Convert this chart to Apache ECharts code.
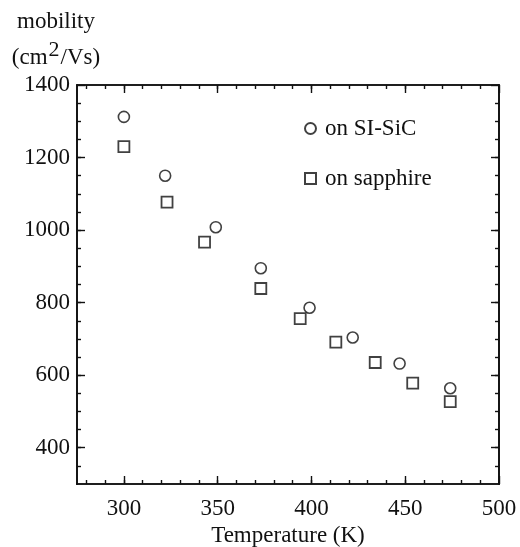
<!DOCTYPE html>
<html>
<head>
<meta charset="utf-8">
<script src="https://cdn.jsdelivr.net/npm/echarts@6/dist/echarts.min.js"></script>
<style>
html,body{margin:0;padding:0;background:#fff;}
#c{width:520px;height:547px;}
</style>
</head>
<body>
<div id="c"></div>
<script>
// Data
const sicTemp = [300, 322, 349, 373, 399, 422, 447, 474];
const sicMobility = [1312, 1150, 1008, 895, 786, 704, 632, 564];
const sapphireTemp = [300, 323, 343, 373, 394, 413, 434, 454, 474];
const sapphireMobility = [1230, 1077, 967, 839, 756, 691, 635, 578, 527];
const seriesNames = ['on SI-SiC', 'on sapphire'];

// Tick values
const xMajorTicks = [300, 350, 400, 450, 500];
const xMinorTicks = [280, 290, 300, 310, 320, 330, 340, 350, 360, 370, 380, 390, 400, 410, 420, 430, 440, 450, 460, 470, 480, 490];
const yMajorTicks = [400, 600, 800, 1000, 1200, 1400];
const yMinorTicks = [350, 400, 450, 500, 550, 600, 650, 700, 750, 800, 850, 900, 950, 1000, 1050, 1100, 1150, 1200, 1250, 1300, 1350];

const FONT = 'Liberation Serif';
const INK = '#111';
const FS = 23;
const line = {color: INK, width: 1.7};

function xAx(pos, ticks, len, labels) {
  return {
    type: 'value', min: 275, max: 500, position: pos,
    name: labels ? 'Temperature (K)' : '',
    nameLocation: 'middle', nameGap: 40,
    nameTextStyle: {fontFamily: FONT, fontSize: FS, color: INK},
    axisLine: {show: true, onZero: false, lineStyle: line},
    axisTick: {show: true, inside: true, length: len, customValues: ticks, lineStyle: {color: INK, width: 1.4}},
    axisLabel: labels ? {show: true, customValues: ticks, margin: 13, fontFamily: FONT, fontSize: FS, color: INK, formatter: v => String(v)} : {show: false},
    splitLine: {show: false}
  };
}
function yAx(pos, ticks, len, labels) {
  return {
    type: 'value', min: 300, max: 1400, position: pos,
    name: labels ? '{a|mobility}\n{a|(cm}{s|2}{a|/Vs)}' : '',
    nameLocation: 'end', nameGap: 8,
    nameTextStyle: {
      fontFamily: FONT, fontSize: FS, color: INK, align: 'center', padding: [0, 42, 0, 0],
      rich: {
        a: {fontFamily: FONT, fontSize: FS, color: INK, lineHeight: 35},
        s: {fontFamily: FONT, fontSize: 22, color: INK, padding: [0, 1, 16, 1]}
      }
    },
    axisLine: {show: true, onZero: false, lineStyle: line},
    axisTick: {show: true, inside: true, length: len, customValues: ticks, lineStyle: {color: INK, width: 1.4}},
    axisLabel: labels ? {show: true, customValues: ticks, margin: 7, fontFamily: FONT, fontSize: FS, color: INK, formatter: v => String(v)} : {show: false},
    splitLine: {show: false}
  };
}

const chart = echarts.init(document.getElementById('c'), null, {renderer: 'canvas'});
chart.setOption({
  animation: false,
  backgroundColor: '#fff',
  grid: {left: 77, right: 21, top: 85, bottom: 63, containLabel: false, outerBoundsMode: 'none'},
  xAxis: [
    xAx('bottom', xMajorTicks, 8, true),
    xAx('bottom', xMinorTicks, 4, false),
    xAx('top', xMajorTicks, 8, false),
    xAx('top', xMinorTicks, 4, false)
  ],
  yAxis: [
    yAx('left', yMajorTicks, 8, true),
    yAx('left', yMinorTicks, 4, false),
    yAx('right', yMajorTicks, 8, false),
    yAx('right', yMinorTicks, 4, false)
  ],
  legend: {
    orient: 'vertical', left: 299, top: 112,
    itemWidth: 11, itemHeight: 11, itemGap: 27,
    textStyle: {fontFamily: FONT, fontSize: FS, color: INK, padding: [0, 0, 0, 4]},
    data: seriesNames
  },
  series: [
    {
      name: seriesNames[0], type: 'scatter', symbol: 'circle', symbolSize: 11,
      itemStyle: {color: '#fff', borderColor: INK, borderWidth: 1.6},
      data: sicTemp.map((t, i) => [t, sicMobility[i]])
    },
    {
      name: seriesNames[1], type: 'scatter', symbol: 'rect', symbolSize: 11,
      itemStyle: {color: '#fff', borderColor: INK, borderWidth: 1.8},
      data: sapphireTemp.map((t, i) => [t, sapphireMobility[i]])
    }
  ]
});
</script>
</body>
</html>
